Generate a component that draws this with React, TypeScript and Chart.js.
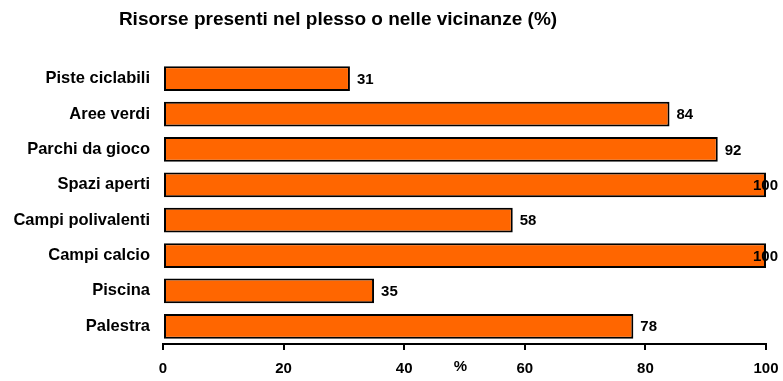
import React, { useEffect, useRef } from "react";
import { Chart, registerables } from "chart.js";

Chart.register(...registerables);

const TITLE = "Risorse presenti nel plesso o nelle vicinanze (%)";
const CATEGORIES = [
  "Piste ciclabili",
  "Aree verdi",
  "Parchi da gioco",
  "Spazi aperti",
  "Campi polivalenti",
  "Campi calcio",
  "Piscina",
  "Palestra",
];
const VALUES = [31, 84, 92, 100, 58, 100, 35, 78];
const X_TICKS = [0, 20, 40, 60, 80, 100];
const X_TITLE = "%";

const FONT = "'Liberation Sans', Arial, Helvetica, sans-serif";

const overlayPlugin = {
  id: "overlay",
  afterDraw(chart: any) {
    const ctx = chart.ctx;
    ctx.save();
    // title
    ctx.fillStyle = "#000";
    ctx.font = `bold 19px ${FONT}`;
    ctx.textAlign = "center";
    ctx.textBaseline = "middle";
    ctx.fillText(TITLE, 338, 20);
    // axis unit label
    const xs = chart.scales.x;
    ctx.font = `bold 15px ${FONT}`;
    ctx.textAlign = "center";
    ctx.textBaseline = "middle";
    const px = (xs.getPixelForValue(40) + xs.getPixelForValue(60)) / 2 - 4;
    ctx.fillText(X_TITLE, px, 367);
    // value labels
    const meta = chart.getDatasetMeta(0);
    ctx.textAlign = "left";
    ctx.font = `bold 15px ${FONT}`;
    meta.data.forEach((bar: any, i: number) => {
      const txt = String(VALUES[i]);
      const w = ctx.measureText(txt).width;
      let x = bar.x + 7;
      if (x + w > 778) x = 778 - w;
      ctx.fillText(txt, x, bar.y + 1);
    });
    ctx.restore();
  },
};

export default function App() {
  const ref = useRef<HTMLCanvasElement>(null);
  useEffect(() => {
    if (!ref.current) return;
    const chart = new Chart(ref.current, {
      type: "bar",
      data: {
        labels: CATEGORIES,
        datasets: [
          {
            data: VALUES,
            backgroundColor: "#FF6600",
            borderColor: "#000000",
            borderWidth: 2,
            borderSkipped: false,
            barPercentage: 0.7,
            categoryPercentage: 1,
          },
        ],
      },
      options: {
        indexAxis: "y",
        animation: false,
        responsive: false,
        devicePixelRatio: 1,
        layout: { padding: { top: 61, right: 17, left: 0, bottom: 0 } },
        plugins: {
          legend: { display: false },
          title: { display: false },
          tooltip: { enabled: false },
        },
        scales: {
          x: {
            min: 0,
            max: 100,
            afterFit: (s: any) => {
              s.height = 37;
              s.paddingLeft = 0;
              s.paddingRight = 0;
            },
            afterBuildTicks: (s: any) => {
              s.ticks = X_TICKS.map((v) => ({ value: v }));
            },
            ticks: {
              color: "#000",
              font: { family: FONT, size: 15, weight: "bold" },
              padding: 10,
              maxRotation: 0,
            },
            grid: {
              display: true,
              drawOnChartArea: false,
              drawTicks: true,
              tickLength: 6,
              color: "#000",
              lineWidth: 2,
            },
            border: { display: true, color: "#000", width: 2 },
          },
          y: {
            afterFit: (s: any) => {
              s.width = 163;
            },
            ticks: {
              color: "#000",
              font: { family: FONT, size: 16.5, weight: "bold" },
              padding: 13,
            },
            grid: { display: false, drawTicks: false },
            border: { display: false },
          },
        },
      },
      plugins: [overlayPlugin],
    } as any);
    return () => chart.destroy();
  }, []);
  return (
    <div style={{ position: "absolute", left: 0, top: 0, width: 783, height: 381, background: "#fff" }}>
      <canvas ref={ref} width={783} height={381} />
    </div>
  );
}
